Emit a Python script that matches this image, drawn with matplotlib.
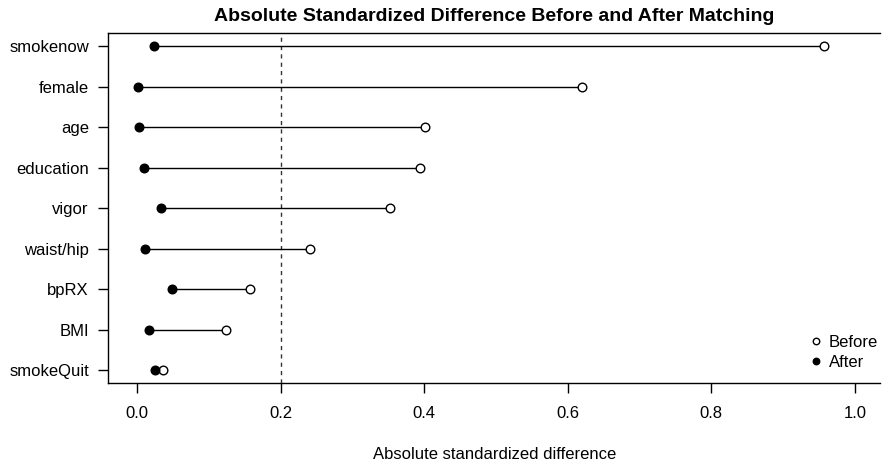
import matplotlib
matplotlib.use("Agg")
import matplotlib.pyplot as plt

# ─── DATA ────────────────────────────────────────────────────────────────────
variables  = ["smokenow", "female", "age", "education", "vigor",
              "waist/hip", "bpRX", "BMI", "smokeQuit"]
before     = [0.957, 0.620, 0.401, 0.394, 0.353, 0.241, 0.157, 0.124, 0.036]
after      = [0.023, 0.002, 0.003, 0.010, 0.034, 0.011, 0.049, 0.017, 0.025]
x_ticks    = [0.0, 0.2, 0.4, 0.6, 0.8, 1.0]
threshold  = 0.2

plt.rcParams['font.family'] = ['Liberation Sans', 'DejaVu Sans']

# ─── PLOT ────────────────────────────────────────────────────────────────────
fig = plt.figure(figsize=(8.85, 4.66), dpi=100)
ax = fig.add_axes([0.1224, 0.1775, 0.872, 0.751])

n = len(variables)
ypos = list(range(n, 0, -1))

ax.hlines(ypos, after, before, color='black', lw=1.0, zorder=2)
ax.axvline(threshold, color='#333333', lw=1.0, ls=(0, (3, 3)), zorder=1)
ax.plot(before, ypos, 'o', ms=6.2, mfc='white', mec='black', mew=1.0,
        ls='none', label='Before', zorder=3)
ax.plot(after, ypos, 'o', ms=6.2, mfc='black', mec='black', mew=1.0,
        ls='none', label='After', zorder=3)

ax.set_xlim(-0.04, 1.035)
ax.set_ylim(0.68, n + 0.32)
ax.set_yticks(ypos)
ax.set_yticklabels(variables, fontsize=12)
ax.set_xticks(x_ticks)
ax.set_xticklabels([f"{t:.1f}" for t in x_ticks], fontsize=12)
ax.tick_params(axis='both', length=7, width=1.0, pad=7)
ax.tick_params(axis='x', pad=9)

ax.spines['right'].set_visible(False)
for s in ['left', 'bottom', 'top']:
    ax.spines[s].set_linewidth(1.0)

ax.set_xlabel("Absolute standardized difference", fontsize=12, labelpad=19)
ax.set_title("Absolute Standardized Difference Before and After Matching",
             fontsize=14, fontweight='bold', pad=9)

ax.legend(loc='lower right', bbox_to_anchor=(1.006, 0.02), frameon=False,
          fontsize=12, handletextpad=0.15, borderaxespad=0, labelspacing=0.3,
          handlelength=1.2, markerscale=0.75)

fig.savefig("out.png", dpi=100)
